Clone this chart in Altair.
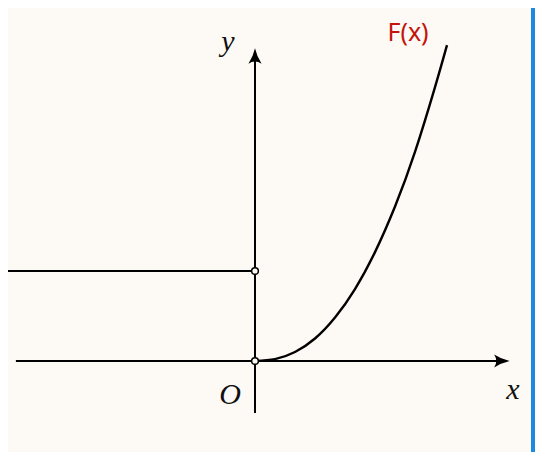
import altair as alt
import pandas as pd

# Values (1 unit ~ 30 px)
curve_x = [0.0, 0.667, 1.333, 2.0, 2.667, 3.333, 4.0, 4.667, 5.333, 6.0, 6.4]
curve_y = [0.0, 0.063, 0.3, 0.75, 1.45, 2.4, 3.63, 5.15, 6.97, 9.13, 10.53]
step_x = [-8.3, 0.0]
step_y = [3.0, 3.0]
open_x = [0.0, 0.0]
open_y = [0.0, 3.0]
xaxis_x = [-7.97, 8.25]
yaxis_y = [-1.73, 10.2]
labels = ["y", "x", "O"]
label_x = [-0.9, 8.6, -0.83]
label_y = [10.63, -0.97, -1.13]
title_text = ["F(x)"]
title_x = [5.1]
title_y = [10.93]

XD = [-8.233, 9.333]
YD = [-3.033, 11.767]
BG = "#fdfaf5"

xs = alt.Scale(domain=XD, nice=False, zero=False)
ys = alt.Scale(domain=YD, nice=False, zero=False)

def X(f="x"):
    return alt.X(f"{f}:Q", scale=xs, axis=None)

def Y(f="y"):
    return alt.Y(f"{f}:Q", scale=ys, axis=None)

curve_df = pd.DataFrame({"x": curve_x, "y": curve_y})
step_df = pd.DataFrame({"x": step_x, "y": step_y})
open_df = pd.DataFrame({"x": open_x, "y": open_y})
xaxis_df = pd.DataFrame({"x": xaxis_x, "y": [0, 0]})
yaxis_df = pd.DataFrame({"x": [0, 0], "y": yaxis_y})
label_df = pd.DataFrame({"t": labels, "x": label_x, "y": label_y})
title_df = pd.DataFrame({"t": title_text, "x": title_x, "y": title_y})
arrow_df = pd.DataFrame({"x": [8.23, 0.0], "y": [0.0, 10.17], "a": [0, 270]})
bar_df = pd.DataFrame({"x": [9.2], "x2": [9.333], "y": [YD[0]], "y2": [YD[1]]})

arrow_path = "M1,0 Q-0.1,-0.25 -1,-0.85 Q-0.45,0 -1,0.85 Q-0.1,0.25 1,0 Z"

xaxis = alt.Chart(xaxis_df).mark_line(color="black", strokeWidth=2).encode(x=X(), y=Y())
yaxis = alt.Chart(yaxis_df).mark_line(color="black", strokeWidth=2).encode(x=X(), y=Y(), order="y:Q")
arrows = alt.Chart(arrow_df).mark_point(
    shape=arrow_path, filled=True, color="black", size=240, opacity=1
).encode(x=X(), y=Y(), angle=alt.Angle("a:Q", scale=None))
step = alt.Chart(step_df).mark_line(color="black", strokeWidth=2.2).encode(x=X(), y=Y())
curve = alt.Chart(curve_df).mark_line(color="black", strokeWidth=2.4, interpolate="natural").encode(
    x=X(), y=Y(), order="x:Q"
)
opens = alt.Chart(open_df).mark_point(
    shape="circle", filled=True, fill=BG, stroke="black", strokeWidth=1.5, size=45, opacity=1
).encode(x=X(), y=Y())
text = alt.Chart(label_df).mark_text(
    font="Liberation Serif", fontStyle="italic", fontSize=30, color="#111"
).encode(x=X(), y=Y(), text="t:N")
title = alt.Chart(title_df).mark_text(
    font="Noto Sans", fontSize=25, color="#c4140c"
).encode(x=X(), y=Y(), text="t:N")
bar = alt.Chart(bar_df).mark_rect(color="#1a8be0").encode(x=X(), x2="x2:Q", y=Y(), y2="y2:Q")

chart = alt.layer(bar, xaxis, yaxis, step, curve, opens, arrows, text, title).properties(
    width=527, height=444, autosize=alt.AutoSizeParams(type="none"), padding=0, background=BG
).configure_view(stroke=None, fill=BG)

chart.save("out.html", embed_options={"renderer": "svg", "actions": False})
